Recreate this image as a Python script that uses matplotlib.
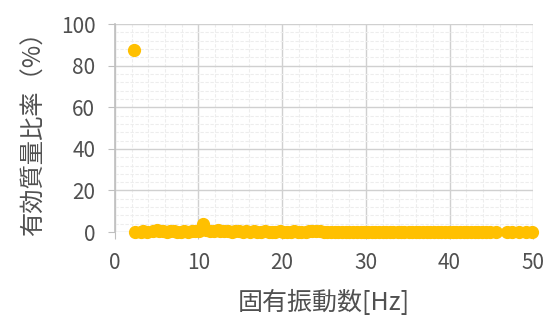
import matplotlib
matplotlib.use("Agg")
import matplotlib.pyplot as plt
from matplotlib.ticker import MultipleLocator

plt.rcParams['font.family'] = ['Noto Sans CJK JP', 'DejaVu Sans']

# natural frequency [Hz]
freq = [2.3, 2.4, 3.1, 3.4, 3.9, 4.6, 5.0, 5.3, 5.8, 6.2, 6.6, 7.1, 7.4, 7.9,
        8.3, 8.7, 9.2, 9.6, 10.1, 10.5, 10.9, 11.4, 11.8, 12.3, 12.6, 13.1,
        13.5, 14.0, 14.4, 14.8, 15.3, 15.7, 16.2, 16.6, 17.0, 17.5, 17.9,
        18.4, 18.8, 19.2, 19.7, 20.1, 20.6, 21.0, 21.4, 21.9, 22.3, 22.8,
        23.2, 23.6, 24.1, 24.5, 25.0, 25.4, 25.8, 26.3, 26.7, 27.2, 27.6,
        28.0, 28.5, 28.9, 29.4, 29.8, 30.2, 30.7, 31.1, 31.6, 32.0, 32.4,
        32.9, 33.3, 33.8, 34.2, 34.6, 35.1, 35.5, 36.0, 36.4, 36.8, 37.3,
        37.7, 38.2, 38.6, 39.0, 39.5, 39.9, 40.4, 40.8, 41.2, 41.7, 42.1,
        42.6, 43.0, 43.4, 43.9, 44.3, 44.8, 45.6, 46.9, 47.5, 48.3, 49.1, 49.8]
# effective mass ratio [%]
ratio = [87.5, 0.1, 0.2, 0.3, 0.1, 0.4, 0.9, 0.5, 0.3, 0.2, 0.4, 0.3, 0.2, 0.1,
         0.3, 0.2, 0.4, 0.6, 0.5, 4.0, 0.8, 0.4, 0.6, 1.0, 0.5, 0.3,
         0.4, 0.2, 0.6, 0.3, 0.2, 0.4, 0.1, 0.3, 0.2, 0.1, 0.3,
         0.2, 0.1, 0.2, 0.3, 0.1, 0.2, 0.1, 0.3, 0.2, 0.1, 0.2,
         0.3, 0.5, 0.7, 0.3, 0.2, 0.1, 0.2, 0.1, 0.2, 0.1, 0.2,
         0.1, 0.2, 0.1, 0.2, 0.1, 0.2, 0.1, 0.2, 0.1, 0.2, 0.1,
         0.2, 0.1, 0.2, 0.1, 0.2, 0.1, 0.2, 0.1, 0.2, 0.1, 0.2,
         0.1, 0.2, 0.1, 0.2, 0.1, 0.2, 0.1, 0.2, 0.1, 0.2, 0.1,
         0.2, 0.1, 0.2, 0.1, 0.2, 0.1, 0.1, 0.1, 0.2, 0.1, 0.1, 0.1]

x_label = "固有振動数[Hz]"
y_label = "有効質量比率（%）"

fig = plt.figure(figsize=(5.52, 3.21), dpi=100)
ax = fig.add_axes([0.208, 0.277, 0.758, 0.648])

ax.plot(freq, ratio, linestyle='none', marker='o', markersize=8.5,
        color='#FFC000', clip_on=False, zorder=5)

ax.set_xlim(0, 50)
ax.set_ylim(0, 100)
ax.xaxis.set_major_locator(MultipleLocator(10))
ax.yaxis.set_major_locator(MultipleLocator(20))
ax.xaxis.set_minor_locator(MultipleLocator(2))
ax.yaxis.set_minor_locator(MultipleLocator(4))

ax.grid(which='major', color='#D0D0D0', linewidth=1.0)
ax.grid(which='minor', color='#EDEDED', linewidth=0.8, linestyle=(0, (3, 1.5)))
ax.set_axisbelow(True)

for s in ['top', 'right', 'bottom']:
    ax.spines[s].set_visible(False)
ax.spines['left'].set_color('#BFBFBF')
ax.spines['left'].set_linewidth(1.2)

ax.tick_params(which='major', direction='out', length=5, color='#BFBFBF',
               labelsize=15, labelcolor='#505050')
ax.tick_params(axis='y', pad=9)
ax.tick_params(axis='x', pad=9)
ax.tick_params(which='minor', length=0)

ax.set_xlabel(x_label, fontsize=18, color='#505050', labelpad=12)
ax.set_ylabel(y_label, fontsize=17.5, color='#505050', labelpad=10)

fig.savefig("out.png", dpi=100)
